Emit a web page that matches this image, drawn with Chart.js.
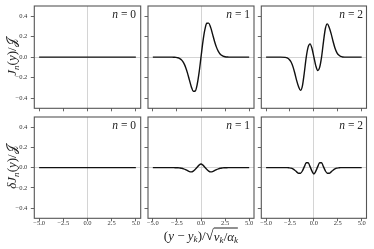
<!DOCTYPE html>
<html>
<head>
<meta charset="utf-8">
<script src="https://cdn.jsdelivr.net/npm/chart.js@4/dist/chart.umd.min.js"></script>
<style>
  body { margin: 0; width: 374px; height: 249px; background: #fff; position: relative; overflow: hidden; }
  canvas { position: absolute; left: 0; top: 0; }
  .lbl { position: absolute; font-family: 'Liberation Serif', 'DejaVu Serif', serif; color: #222; white-space: nowrap; }
  .lbl i { font-style: italic; }
  .lbl sub { font-size: 0.7em; vertical-align: -0.3em; line-height: 0; }
  .ytitle { font-size: 13px; transform: translate(-50%, -50%) rotate(-90deg); }
  .nlab { font-size: 11.5px; text-align: right; }
  .rad { display: inline-block; border-top: 1px solid #222; line-height: 1; padding-top: 1px; vertical-align: -1px; }
</style>
</head>
<body>
<canvas id="c00" width="374" height="249"></canvas>
<canvas id="c01" width="374" height="249"></canvas>
<canvas id="c02" width="374" height="249"></canvas>
<canvas id="c10" width="374" height="249"></canvas>
<canvas id="c11" width="374" height="249"></canvas>
<canvas id="c12" width="374" height="249"></canvas>

<div class="lbl ytitle" style="left:12px; top:57px;"><i>J</i><sub><i>n</i></sub>(<i>y</i>)/𝒥</div>
<div class="lbl ytitle" style="left:12px; top:167px;"><i>δJ</i><sub><i>n</i></sub>(<i>y</i>)/𝒥</div>
<div class="lbl" style="left:201px; top:235px; font-size:13px; line-height:1; transform:translate(-50%,-50%);">(<i>y</i> − <i>y</i><sub><i>k</i></sub>)/<span style="font-size:15px;">√</span><span class="rad"><i>v</i><sub><i>k</i></sub>/<i>α</i><sub><i>k</i></sub></span></div>

<div class="lbl nlab" style="right:238px; top:8px;"><i>n</i> = 0</div>
<div class="lbl nlab" style="right:124px; top:8px;"><i>n</i> = 1</div>
<div class="lbl nlab" style="right:11px; top:8px;"><i>n</i> = 2</div>
<div class="lbl nlab" style="right:238px; top:119px;"><i>n</i> = 0</div>
<div class="lbl nlab" style="right:124px; top:119px;"><i>n</i> = 1</div>
<div class="lbl nlab" style="right:11px; top:119px;"><i>n</i> = 2</div>

<script>
// sample positions along (y - y_k)/sqrt(v_k/alpha_k)
const xs = [-5, -4.5, -4, -3.5, -3, -2.8, -2.6, -2.4, -2.2, -2, -1.8, -1.6, -1.4, -1.2, -1, -0.8, -0.6, -0.4, -0.2,
            0, 0.2, 0.4, 0.6, 0.8, 1, 1.2, 1.4, 1.6, 1.8, 2, 2.2, 2.4, 2.6, 2.8, 3, 3.5, 4, 4.5, 5];

// top row: J_n(y)/J
const jn0 = [0, 0, 0, 0, 0, 0, 0, 0, 0, 0, 0, 0, 0, 0, 0, 0, 0, 0, 0,
             0, 0, 0, 0, 0, 0, 0, 0, 0, 0, 0, 0, 0, 0, 0, 0, 0, 0, 0, 0];
const jn1 = [0, 0, 0, 0, 0, -0.001, -0.002, -0.006, -0.014, -0.029, -0.056, -0.098, -0.156, -0.225, -0.291, -0.333, -0.331, -0.269, -0.152,
             0, 0.152, 0.269, 0.331, 0.333, 0.291, 0.225, 0.156, 0.098, 0.056, 0.029, 0.014, 0.006, 0.002, 0.001, 0, 0, 0, 0, 0];
const jn2 = [0, 0, 0, 0, -0.002, -0.007, -0.02, -0.045, -0.09, -0.155, -0.23, -0.29, -0.325, -0.28, -0.15, 0, 0.1, 0.13, 0.085,
             0, -0.085, -0.13, -0.1, 0, 0.15, 0.28, 0.325, 0.29, 0.23, 0.155, 0.09, 0.045, 0.02, 0.007, 0.002, 0, 0, 0, 0];

// bottom row: dJ_n(y)/J
const djn0 = [0, 0, 0, 0, 0, 0, 0, 0, 0, 0, 0, 0, 0, 0, 0, 0, 0, 0, 0,
              0, 0, 0, 0, 0, 0, 0, 0, 0, 0, 0, 0, 0, 0, 0, 0, 0, 0, 0, 0];
const djn1 = [0, 0, 0, 0, 0, 0, -0.001, -0.001, -0.003, -0.006, -0.012, -0.02, -0.03, -0.039, -0.042, -0.034, -0.017, 0.004, 0.025,
              0.036, 0.025, 0.004, -0.017, -0.034, -0.042, -0.039, -0.03, -0.02, -0.012, -0.006, -0.003, -0.001, -0.001, 0, 0, 0, 0, 0, 0];
const djn2 = [0, 0, 0, 0, 0, 0, -0.002, -0.005, -0.012, -0.025, -0.042, -0.056, -0.055, -0.032, 0.01, 0.048, 0.048, 0.01, -0.035,
              -0.062, -0.035, 0.01, 0.048, 0.048, 0.01, -0.032, -0.055, -0.056, -0.042, -0.025, -0.012, -0.005, -0.002, 0, 0, 0, 0, 0, 0];

const xTicks = [-5, -2.5, 0, 2.5, 5];
const yTicks = [-0.4, -0.2, 0, 0.2, 0.4];

// panel boxes in page pixels
const colLeft = [34.3, 148, 261.3];
const colRight = [140.7, 254, 366.5];
const rowTop = [6, 117];
const rowBottom = [108.3, 218.3];

const frameColor = '#555';
const fmt = v => v.toFixed(1).replace('-', '\u2212');

const framePlugin = {
  id: 'frame',
  afterDraw(chart) {
    const a = chart.chartArea;
    const ctx = chart.ctx;
    ctx.save();
    ctx.strokeStyle = frameColor;
    ctx.lineWidth = 1.1;
    ctx.strokeRect(a.left, a.top, a.right - a.left, a.bottom - a.top);
    ctx.restore();
  }
};

function makePanel(id, row, col, ys) {
  const L = colLeft[col], R = colRight[col], T = rowTop[row], B = rowBottom[row];
  const yW = col === 0 ? L : 4;
  const xH = 14;
  new Chart(document.getElementById(id), {
    type: 'line',
    data: {
      datasets: [{
        data: xs.map((x, i) => ({ x: x, y: ys[i] })),
        borderColor: '#111',
        borderWidth: 1.4,
        pointRadius: 0,
        cubicInterpolationMode: 'monotone',
        fill: false
      }]
    },
    options: {
      responsive: false,
      animation: false,
      events: [],
      layout: { padding: { left: L - yW, right: 374 - R, top: T, bottom: 249 - B - xH } },
      plugins: { legend: { display: false }, tooltip: { enabled: false } },
      scales: {
        x: {
          type: 'linear', min: -5.5, max: 5.5,
          afterBuildTicks: s => { s.ticks = xTicks.map(v => ({ value: v })); },
          afterFit: s => { s.height = xH; s.paddingLeft = 0; s.paddingRight = 0; },
          border: { display: false },
          grid: {
            color: c => (c.tick && c.tick.value === 0) ? '#cfcfcf' : 'transparent',
            lineWidth: 0.9,
            tickColor: frameColor, tickLength: 3, tickWidth: 0.9
          },
          ticks: {
            display: row === 1, maxRotation: 0, padding: -2,
            color: '#333', font: { family: 'Liberation Serif', size: 6.5 },
            callback: v => fmt(v)
          }
        },
        y: {
          min: -0.5, max: 0.5,
          afterBuildTicks: s => { s.ticks = yTicks.map(v => ({ value: v })); },
          afterFit: s => { s.width = yW; s.paddingTop = 0; s.paddingBottom = 0; },
          border: { display: false },
          grid: {
            color: c => (c.tick && c.tick.value === 0) ? '#cfcfcf' : 'transparent',
            lineWidth: 0.9,
            tickColor: frameColor, tickLength: 3.5, tickWidth: 0.9
          },
          ticks: {
            display: col === 0, padding: 3.5,
            color: '#333', font: { family: 'Liberation Serif', size: 6.5 },
            callback: v => fmt(v)
          }
        }
      }
    },
    plugins: [framePlugin]
  });
}

makePanel('c00', 0, 0, jn0);
makePanel('c01', 0, 1, jn1);
makePanel('c02', 0, 2, jn2);
makePanel('c10', 1, 0, djn0);
makePanel('c11', 1, 1, djn1);
makePanel('c12', 1, 2, djn2);
</script>
</body>
</html>
